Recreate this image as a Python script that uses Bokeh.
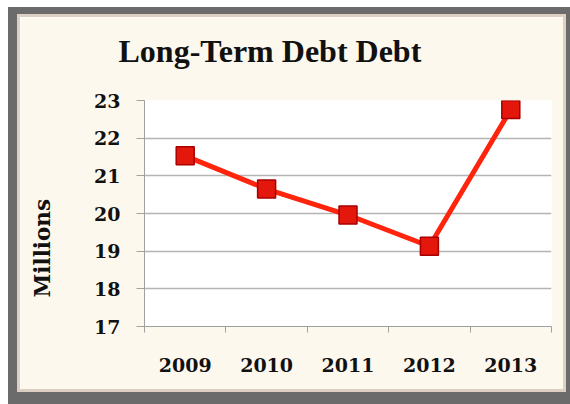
from bokeh.plotting import figure
from bokeh.models import Range1d, FixedTicker, Title
from bokeh.embed import file_html
from bokeh.resources import INLINE

# ---- data ----
years = ["2009", "2010", "2011", "2012", "2013"]
debt = [21.53, 20.65, 19.96, 19.13, 22.76]
y_ticks = [17, 18, 19, 20, 21, 22, 23]
title_text = "Long-Term Debt Debt"
y_label = "Millions"

xs = [i + 0.5 for i in range(len(years))]
bounds = list(range(len(years) + 1))

CREAM = "#fdf8ee"
GRID = "#b4b4b4"
AXIS = "#a0a0a0"
DARK = "#6b6b6b"
TAN = "#ddd0c2"
INK = "#111111"

W, H = 543, 372
ML, MR, MT, MB = 124, 12, 83, 63

p = figure(width=W, height=H, output_backend="svg", toolbar_location=None, title=None,
           x_range=Range1d(0, len(years)), y_range=Range1d(min(y_ticks), max(y_ticks)),
           min_border_left=ML, min_border_right=MR, min_border_top=MT, min_border_bottom=MB)

p.background_fill_color = "white"
p.border_fill_color = CREAM
p.outline_line_color = None

# x axis: labels at centres, ticks at boundaries
xa = p.xaxis[0]
xa.ticker = FixedTicker(ticks=xs, minor_ticks=bounds)
xa.major_label_overrides = {x: y for x, y in zip(xs, years)}
xa.major_tick_line_color = None
xa.major_tick_in = 0
xa.major_tick_out = 0
xa.minor_tick_in = 0
xa.minor_tick_out = 6
xa.minor_tick_line_color = AXIS
xa.axis_line_color = AXIS
xa.major_label_standoff = 25
xa.major_label_text_font = "DejaVu Serif"
xa.major_label_text_font_style = "bold"
xa.major_label_text_font_size = "19px"
xa.major_label_text_color = INK

ya = p.yaxis[0]
ya.ticker = FixedTicker(ticks=y_ticks, minor_ticks=[])
ya.major_tick_in = 0
ya.major_tick_out = 8
ya.major_tick_line_color = AXIS
ya.axis_line_color = AXIS
ya.minor_tick_line_color = None
ya.major_label_standoff = 16
ya.major_label_text_font = "DejaVu Serif"
ya.major_label_text_font_style = "bold"
ya.major_label_text_font_size = "19px"
ya.major_label_text_color = INK

# spacers (blank) keep the titles away from the frame without growing the borders
p.add_layout(Title(text=" ", text_font_size="10px", standoff=14), "above")
p.add_layout(Title(text=title_text, align="left", offset=-26, standoff=10,
                   text_font="Liberation Serif", text_font_size="32px",
                   text_font_style="bold", text_color=INK), "above")

p.add_layout(Title(text=" ", text_font_size="10px", standoff=19), "left")
p.add_layout(Title(text=y_label, align="left", offset=29, standoff=10,
                   text_font="DejaVu Serif", text_font_style="bold",
                   text_font_size="21.5px", text_color=INK), "left")

p.xgrid.grid_line_color = None
p.ygrid.grid_line_color = GRID
p.ygrid.grid_line_width = 1.5

p.line(xs, debt, line_color="#ff250c", line_width=5)
p.scatter(xs, debt, marker="square", size=18, fill_color="#e3170c",
          line_color="#a80000", line_width=1.5)

# picture frame drawn as shadows only (no effect on the plot's own size)
p.styles = {
    "margin-left": "20px",
    "margin-top": "17px",
    "box-shadow": "0 0 0 3px " + TAN + ", 1px 3px 0 13px " + DARK,
}

open("out.html", "w").write(file_html(p, INLINE))
